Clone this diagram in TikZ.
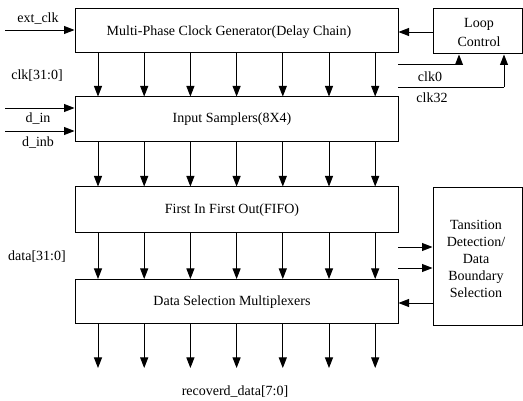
\documentclass[tikz,border=0pt]{standalone}
\usepackage{fontspec}
\setmainfont{Liberation Serif}
\usetikzlibrary{arrows.meta}
\begin{document}
\begin{tikzpicture}[x=1pt,y=-1pt,
  blk/.style={draw,line width=1pt,inner sep=0pt,minimum width=323pt},
  side/.style={draw,line width=1pt,inner sep=0pt,minimum width=89pt},
  lbl/.style={inner sep=0pt,font=\fontsize{14}{17}\selectfont},
  arr/.style={line width=0.9pt,-{Triangle[length=10.5pt,width=8pt]}},
  ln/.style={line width=0.9pt}]
\useasboundingbox (0,0) rectangle (523,401);
% main blocks
\node[blk,minimum height=44pt] (gen) at (236.5,31) {};
\node[lbl] (gent) at (229,32) {Multi-Phase Clock Generator(Delay Chain)};
\node[blk,minimum height=45pt] (samp) at (236.5,119.5) {};
\node[lbl] (sampt) at (232,119) {Input Samplers(8X4)};
\node[blk,minimum height=46pt] (fifo) at (236.5,210) {};
\node[lbl] (fifot) at (232,210) {First In First Out(FIFO)};
\node[blk,minimum height=44pt] (dsm) at (236.5,301.5) {};
\node[lbl] (dsmt) at (232,302) {Data Selection Multiplexers};
% side blocks
\node[side,minimum height=45pt] (loop) at (477.5,31.5) {};
\node[lbl,align=center,font=\fontsize{14}{19}\selectfont] (loopt) at (479,32.5) {Loop\\Control};
\node[side,minimum height=138pt] (trans) at (477.5,257) {};
\node[lbl,align=center] (transt) at (476,259) {Tansition\\Detection/\\Data\\Boundary\\Selection};
% column coordinates
\foreach \i/\x in {1/98,2/144.2,3/190.4,4/236.6,5/282.8,6/329,7/375.2}{
  \coordinate (c\i) at (\x,0);
  \coordinate (o\i) at (\x,368);
}
\foreach \i in {1,...,7}{
  \draw[arr] (gen.south -| c\i) -- (samp.north -| c\i);
  \draw[arr] (samp.south -| c\i) -- (fifo.north -| c\i);
  \draw[arr] (fifo.south -| c\i) -- (dsm.north -| c\i);
  \draw[arr] (dsm.south -| c\i) -- (o\i);
}
% inputs
\coordinate (extin) at (5,30);
\draw[arr] (extin) -- (extin -| gen.west);
\node[lbl] (extl) at (38,19) {ext\_clk};
\coordinate (din) at (5,108);
\coordinate (dinb) at (5,131);
\draw[arr] (din) -- (din -| samp.west);
\draw[arr] (dinb) -- (dinb -| samp.west);
\node[lbl] (dinl) at (38,119) {d\_in};
\node[lbl] (dinbl) at (38,143) {d\_inb};
\node[lbl] (clkl) at (37,76) {clk[31:0]};
\node[lbl] (datal) at (37,257) {data[31:0]};
\node[lbl] (recl) at (235,392) {recoverd\_data[7:0]};
% loop control
\coordinate (lc) at (433,32);
\draw[arr] (lc) -- (lc -| gen.east);
\coordinate (k0) at (398,64);
\coordinate (k0t) at (459,64);
\coordinate (k32) at (398,87);
\coordinate (k32t) at (504,87);
\draw[ln] (k0) -- (k0t);
\draw[arr] (k0t) -- (k0t |- loop.south);
\draw[ln] (k32) -- (k32t);
\draw[arr] (k32t) -- (k32t |- loop.south);
\node[lbl] (k0l) at (430,77) {clk0};
\node[lbl] (k32l) at (432,98) {clk32};
% transition detection
\coordinate (t1) at (398,247);
\coordinate (t2) at (398,268);
\draw[arr] (t1) -- (t1 -| trans.west);
\draw[arr] (t2) -- (t2 -| trans.west);
\coordinate (tb) at (433,303);
\draw[arr] (tb) -- (tb -| dsm.east);
\end{tikzpicture}
\end{document}
